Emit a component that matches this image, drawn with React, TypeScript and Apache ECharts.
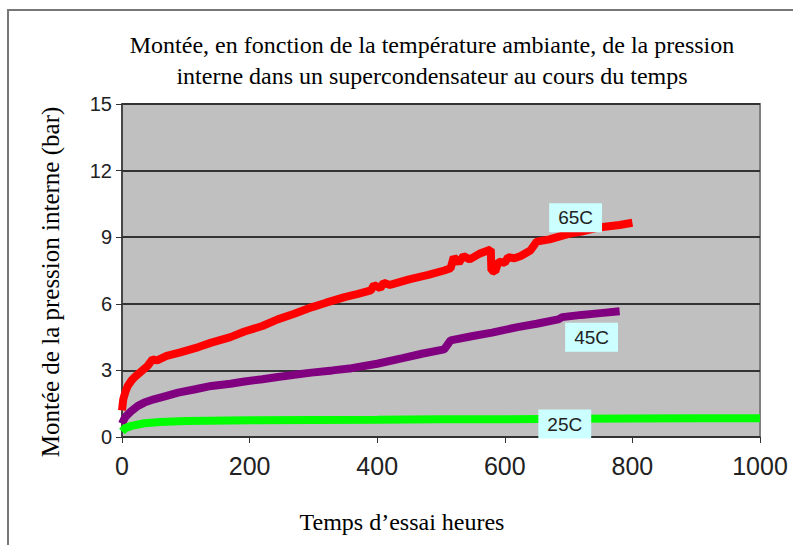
import React, { useEffect, useRef } from "react";
import * as echarts from "echarts";

const titleLines = [
  "Montée, en fonction de la température ambiante, de la pression",
  "interne dans un supercondensateur au cours du temps",
];
const xAxisName = "Temps d’essai heures";
const yAxisName = "Montée de la pression interne (bar)";

const series65: [number, number][] = [
  [0, 1.2], [2, 1.7], [5, 2.0], [9, 2.3], [15, 2.55], [20, 2.7], [30, 2.95], [40, 3.2],
  [48, 3.5], [55, 3.45], [70, 3.65], [90, 3.8], [120, 4.05], [140, 4.25], [170, 4.5],
  [192, 4.75], [220, 5.0], [244, 5.3], [270, 5.55], [297, 5.84], [320, 6.05], [349, 6.3],
  [370, 6.45], [390, 6.6], [395, 6.85], [405, 6.7], [410, 6.95], [420, 6.85], [450, 7.1],
  [480, 7.3], [505, 7.5], [515, 7.6], [520, 8.1], [528, 7.85], [535, 8.15], [545, 8.0],
  [560, 8.25], [578, 8.45], [579, 7.5], [585, 7.45], [590, 7.9], [600, 7.85], [605, 8.1],
  [615, 8.05], [625, 8.15], [640, 8.4], [650, 8.8], [670, 8.9], [700, 9.15], [720, 9.25],
  [750, 9.45], [780, 9.55], [800, 9.65],
];
const series45: [number, number][] = [
  [0, 0.6], [5, 0.9], [14, 1.15], [25, 1.4], [35, 1.55], [50, 1.7], [70, 1.85], [88, 2.0],
  [115, 2.15], [140, 2.3], [170, 2.4], [192, 2.5], [220, 2.6], [244, 2.7], [270, 2.8],
  [297, 2.9], [330, 3.0], [360, 3.1], [400, 3.3], [440, 3.55], [470, 3.75], [505, 3.95],
  [515, 4.35], [550, 4.55], [580, 4.7], [620, 4.95], [650, 5.1], [684, 5.3], [690, 5.4],
  [720, 5.5], [750, 5.58], [780, 5.66],
];
const series25: [number, number][] = [
  [0, 0.25], [5, 0.4], [15, 0.5], [35, 0.62], [60, 0.68], [100, 0.72], [200, 0.75],
  [300, 0.77], [400, 0.78], [500, 0.8], [600, 0.8], [700, 0.82], [800, 0.83], [900, 0.84],
  [1000, 0.85],
];
const seriesNames = ["65C", "45C", "25C"];
const labelCoords: [number, number][] = [[711, 9.88], [736, 4.49], [694, 0.58]];

const serif = "'Liberation Serif', 'Times New Roman', serif";
const sans = "Liberation Sans, Arial, sans-serif";

export default function App() {
  const ref = useRef<HTMLDivElement>(null);
  useEffect(() => {
    document.body.style.margin = "0";
    const chart = echarts.init(ref.current!, null, { renderer: "svg" });
    const mkLabel = (i: number) => ({
      symbol: "rect",
      symbolSize: 1,
      itemStyle: { color: "rgba(0,0,0,0)" },
      label: { show: false },
      data: [
        {
          coord: labelCoords[i],
          label: {
            show: true,
            position: "inside",
            formatter: seriesNames[i],
            backgroundColor: "#ccffff",
            padding: [5, 9],
            fontSize: 19,
            fontFamily: sans,
            color: "#222",
          },
        },
      ],
    });
    const colors = ["#ff0000", "#800080", "#00ff00"];
    const datas = [series65, series45, series25];
    const txt = (x: number, y: number, text: string, size: number, rotation = 0) => ({
      type: "text",
      x,
      y,
      rotation,
      style: {
        text,
        font: `${size}px ${serif}`,
        fill: "#000",
        textAlign: "center",
        textVerticalAlign: "middle",
      },
    });
    chart.setOption({
      animation: false,
      graphic: [
        {
          type: "rect",
          shape: { x: 8, y: 10, width: 800, height: 560 },
          style: { fill: "none", stroke: "#777", lineWidth: 2 },
          z: -10,
        },
        txt(432, 45, titleLines[0], 24),
        txt(432, 76, titleLines[1], 24),
        txt(402, 522, xAxisName, 24),
        txt(50, 282, yAxisName, 25, Math.PI / 2),
      ],
      grid: {
        left: 122,
        right: 33,
        top: 104,
        bottom: 108,
        show: true,
        backgroundColor: "#c0c0c0",
        borderColor: "#808080",
        borderWidth: 2,
      },
      xAxis: {
        type: "value",
        min: 0,
        max: 1000,
        interval: 200,
        axisLine: { show: true, lineStyle: { color: "#333", width: 1.5 } },
        axisTick: { show: true, length: 6, lineStyle: { color: "#333" } },
        axisLabel: {
          fontSize: 25,
          margin: 16,
          color: "#222",
          fontFamily: sans,
          formatter: (v: number) => String(v),
        },
        splitLine: { show: false },
      },
      yAxis: {
        type: "value",
        min: 0,
        max: 15,
        interval: 3,
        axisLine: { show: true, lineStyle: { color: "#333", width: 1.5 } },
        axisTick: { show: true, length: 6, lineStyle: { color: "#333" } },
        axisLabel: {
          fontSize: 20,
          margin: 10,
          color: "#222",
          fontFamily: sans,
        },
        splitLine: { show: true, lineStyle: { color: "#333", width: 2 } },
      },
      series: datas.map((d, i) => ({
        name: seriesNames[i],
        type: "line",
        data: d,
        showSymbol: false,
        clip: false,
        lineStyle: { color: colors[i], width: 8 },
        itemStyle: { color: colors[i] },
        markPoint: mkLabel(i),
        z: 2 + i,
      })),
    });
    return () => chart.dispose();
  }, []);
  return <div ref={ref} style={{ width: 793, height: 545 }} />;
}
